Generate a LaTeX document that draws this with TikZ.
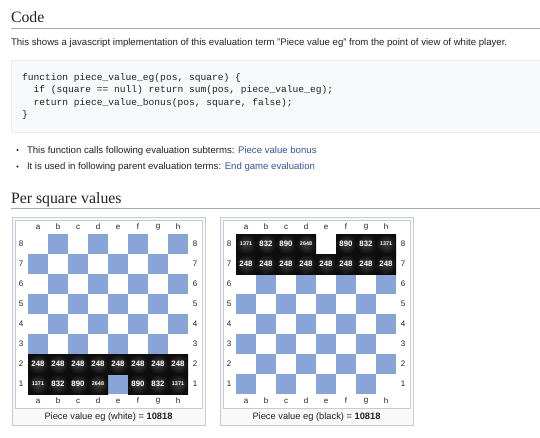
\documentclass[tikz,border=0pt]{standalone}
\usepackage{fontspec}
\setmainfont{Liberation Sans}
\setmonofont{Liberation Mono}
\newfontfamily\headfont{Liberation Serif}
\usetikzlibrary{positioning,calc}

\definecolor{boardblue}{RGB}{137,164,214}
\definecolor{linkblue}{RGB}{51,85,153}
\definecolor{rulegray}{RGB}{162,169,177}
\definecolor{boxgray}{RGB}{248,249,250}
\definecolor{framegray}{RGB}{200,204,209}
\definecolor{codeline}{RGB}{234,236,240}
\definecolor{textgray}{RGB}{34,34,34}

\begin{document}
\begin{tikzpicture}
[
   x=1pt, y=-1pt,
   every node/.style={inner sep=0pt, outer sep=0pt, text=textgray}
]

\tikzset{heading/.style = {anchor=base west, font=\headfont\fontsize{15.8}{16}\selectfont}}
\tikzset{body/.style = {anchor=base west, font=\fontsize{9.6}{11}\selectfont}}
\tikzset{code/.style = {anchor=base west, font=\ttfamily\fontsize{9.6}{11}\selectfont}}
\tikzset{coord/.style = {font=\fontsize{8}{8}\selectfont}}
\tikzset{piece/.style = {font=\bfseries\fontsize{7.8}{8}\selectfont, text=white}}
\tikzset{bigpiece/.style = {font=\bfseries\fontsize{5.4}{6}\selectfont, text=white}}
\tikzset{caption/.style = {font=\fontsize{9.3}{10}\selectfont}}
\tikzset{square/.style = {inner color=black!75, outer color=black!95}}

\useasboundingbox (0,0) rectangle (540,437);
\fill[white] (0,0) rectangle (540,437);

% headings and text
\node[heading] (code) at (11,22) {Code};
\draw[rulegray] (11,28.5) -- (540,28.5);
\node[body] (intro) at (11,45) {This shows a javascript implementation of this evaluation term "Piece value eg" from the point of view of white player.};

\filldraw[fill=boxgray, draw=codeline] (11,60) rectangle (541,132);
\node[code] (line1) at (22,80) {function piece\_value\_eg(pos, square) \{};
\node[code] (line2) at (22,92.5) {\ \ if (square == null) return sum(pos, piece\_value\_eg);};
\node[code] (line3) at (22,105) {\ \ return piece\_value\_bonus(pos, square, false);};
\node[code] (line4) at (22,117.5) {\}};

\fill[textgray] (17.5,150) circle (1.2);
\node[body] (calls) at (27,153) {This function calls following evaluation subterms: \textcolor{linkblue}{Piece value bonus}};
\fill[textgray] (17.5,166.5) circle (1.2);
\node[body] (used) at (27,169.5) {It is used in following parent evaluation terms: \textcolor{linkblue}{End game evaluation}};

\node[heading] (persq) at (11,203) {Per square values};
\draw[rulegray] (11,208.5) -- (540,208.5);

% boards
\foreach \bx/\side/\name in {0/white/w, 208/black/b}{
  \begin{scope}[xshift=\bx]
    \filldraw[fill=boxgray, draw=framegray] (12,217) rectangle (205,425);
    \filldraw[fill=white, draw=framegray] (15,220) rectangle (202,408);
    \foreach \f in {0,...,7}
      \foreach \r in {1,...,8}{
        \pgfmathtruncatemacro{\dk}{mod(\f+\r,2)}
        \ifnum\dk=1
          \fill[boardblue] (28+20*\f,234+20*8-20*\r) rectangle ++(20,20);
        \fi
      }
    \foreach \f/\l in {0/a,1/b,2/c,3/d,4/e,5/f,6/g,7/h}{
      \node[coord] (top\name\l) at (38+20*\f,227) {\l};
      \node[coord] (bot\name\l) at (38+20*\f,401) {\l};
    }
    \foreach \r in {1,...,8}{
      \node[coord] (left\name\r) at (21,244+20*8-20*\r) {\r};
      \node[coord] (right\name\r) at (195,244+20*8-20*\r) {\r};
    }
    \node[caption] (cap\name) at (108.5,417) {Piece value eg (\side) = \textbf{10818}};
  \end{scope}
}

% pieces
\foreach \bx/\pr/\br/\name in {0/2/1/w, 208/7/8/b}{
  \begin{scope}[xshift=\bx]
    \foreach \f in {0,...,7}{
      \fill[square] (28+20*\f,234+160-20*\pr) rectangle ++(20,20);
      \node[piece] (pawn\name\f) at (38+20*\f,244+160-20*\pr) {248};
    }
    \foreach \f/\v/\st in {0/1371/bigpiece,1/832/piece,2/890/piece,3/2648/bigpiece,5/890/piece,6/832/piece,7/1371/bigpiece}{
      \fill[square] (28+20*\f,234+160-20*\br) rectangle ++(20,20);
      \node[\st] (piece\name\f) at (38+20*\f,244+160-20*\br) {\v};
    }
  \end{scope}
}
\end{tikzpicture}
\end{document}
